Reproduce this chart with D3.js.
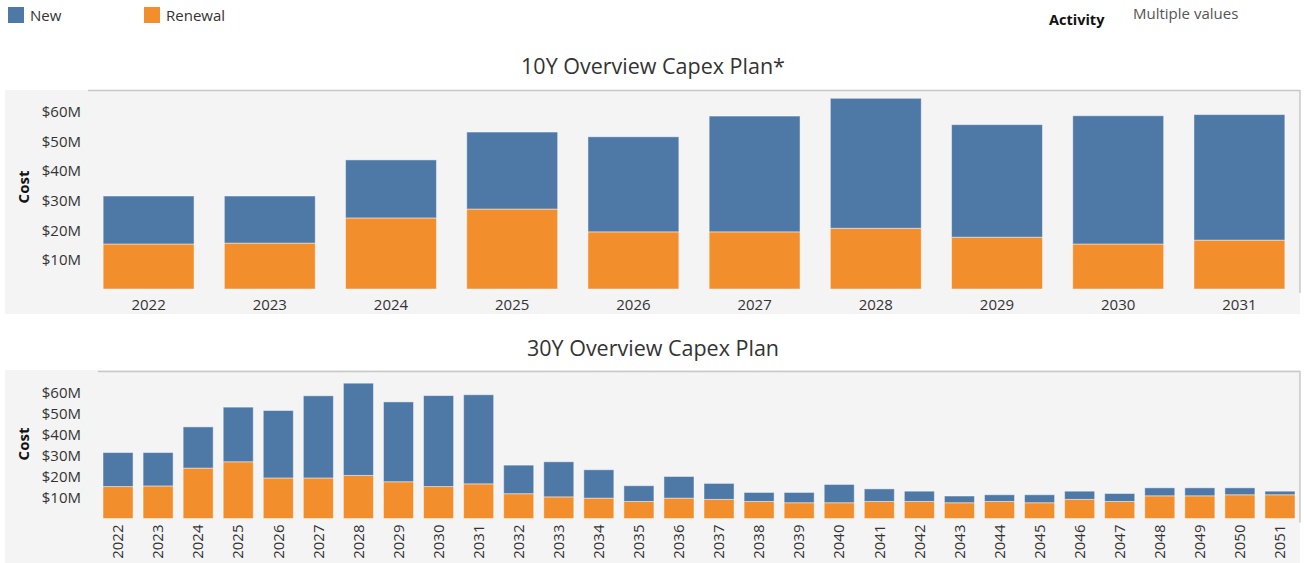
<!DOCTYPE html>
<html>
<head>
<meta charset="utf-8">
<script src="https://cdn.jsdelivr.net/npm/d3@7"></script>
<style>
  body { margin: 0; background: #fff; font-family: "Open Sans", "Noto Sans", sans-serif; }
  svg text { fill: #333; }
</style>
</head>
<body>
<svg id="chart"></svg>
<script>
// values in $M
var years = ["2022","2023","2024","2025","2026","2027","2028","2029","2030","2031",
             "2032","2033","2034","2035","2036","2037","2038","2039","2040","2041",
             "2042","2043","2044","2045","2046","2047","2048","2049","2050","2051"];
var renewal = [15.2,15.5,24.0,27.0,19.3,19.3,20.5,17.5,15.2,16.5,
               11.8,10.3,9.7,8.1,9.7,9.1,8.1,7.5,7.5,8.1,
               8.1,7.5,8.1,7.5,9.1,8.1,10.8,10.8,11.3,11.3];
var newCost = [16.2,15.9,19.6,26.0,32.1,39.1,43.9,38.0,43.3,42.4,
               13.6,16.7,13.5,7.5,10.3,7.6,4.3,4.9,8.7,6.0,
               4.9,3.2,3.2,3.8,3.9,3.8,3.8,3.8,3.3,1.7];
var yTicks = [10,20,30,40,50,60];
var seriesKeys = ["renewal","new"];
var colors = {new: "#4e79a7", renewal: "#f28e2b"};

var W = 1304, H = 563;
var FS = "15px";
var svg = d3.select("#chart").attr("width", W).attr("height", H);

var rows = years.map(function(y, i){ return {year: y, renewal: renewal[i], new: newCost[i]}; });
var stack = d3.stack().keys(seriesKeys);

// legend
var legendX = [8, 144];
var legendItems = [{name: "New", key: "new"}, {name: "Renewal", key: "renewal"}];
legendItems.forEach(function(d, i){
  svg.append("rect").attr("x", legendX[i]).attr("y", 7).attr("width", 16).attr("height", 16)
    .attr("fill", colors[d.key]);
  svg.append("text").attr("x", legendX[i] + 22).attr("y", 20.5).style("font-size", FS).text(d.name);
});
svg.append("text").attr("x", 1049).attr("y", 24.5).style("font-size", "14.5px").style("font-weight", "bold")
  .style("fill", "#111").text("Activity");
svg.append("text").attr("x", 1133).attr("y", 19).style("font-size", "15px").style("fill", "#555")
  .text("Multiple values");

function drawPanel(cfg) {
  var data = rows.slice(0, cfg.n);
  var g = svg.append("g");

  g.append("rect").attr("x", 5).attr("y", cfg.panelTop).attr("width", 1295)
    .attr("height", cfg.panelBottom - cfg.panelTop).attr("fill", "#f4f4f4");
  g.append("line").attr("x1", cfg.x0).attr("x2", 1300).attr("y1", cfg.plotTop + 0.5).attr("y2", cfg.plotTop + 0.5)
    .attr("stroke", "#c8c8c8").attr("stroke-width", 1.5);
  g.append("line").attr("x1", 1300).attr("x2", 1300).attr("y1", cfg.plotTop).attr("y2", cfg.baseline + 4)
    .attr("stroke", "#c8c8c8").attr("stroke-width", 1.5);

  var x = d3.scaleBand().domain(data.map(function(d){ return d.year; }))
    .range([cfg.x0, 1300]).paddingInner(0.25).paddingOuter(0.125);
  var y = d3.scaleLinear().domain([0, cfg.yMax]).range([cfg.baseline, cfg.plotTop]);

  svg.append("text").attr("x", 653).attr("y", cfg.titleY).attr("text-anchor", "middle")
    .style("font-size", "21.5px").text(cfg.title);

  var yAxis = d3.axisLeft(y).tickValues(yTicks).tickSize(0).tickPadding(0)
    .tickFormat(function(d){ return "$" + d + "M"; });
  var ya = g.append("g").attr("transform", "translate(81,0)").call(yAxis);
  ya.select(".domain").remove();
  ya.selectAll("text").style("font-size", FS).style("font-family", "'Open Sans', sans-serif")
    .attr("fill", "#333").attr("dy", "0.35em");

  g.append("text").attr("transform", "translate(29," + cfg.costY + ") rotate(-90)")
    .attr("text-anchor", "middle").style("font-size", "15px").style("font-weight", "bold")
    .style("fill", "#111").text("Cost");

  var layers = stack(data);
  g.selectAll(".layer").data(layers).enter().append("g")
    .attr("fill", function(d){ return colors[d.key]; })
    .selectAll("rect").data(function(d){ return d; }).enter().append("rect")
    .attr("x", function(d){ return x(d.data.year); })
    .attr("width", x.bandwidth())
    .attr("y", function(d){ return y(d[1]); })
    .attr("height", function(d){ return y(d[0]) - y(d[1]); })
    .attr("stroke", "rgba(255,255,255,0.45)").attr("stroke-width", 1);

  var xAxis = d3.axisBottom(x).tickSize(0).tickPadding(0);
  var xa = g.append("g").attr("transform", "translate(0," + cfg.baseline + ")").call(xAxis);
  xa.select(".domain").remove();
  xa.selectAll("text").style("font-size", FS).style("font-family", "'Open Sans', sans-serif").attr("fill", "#333");
  if (cfg.rotate) {
    xa.selectAll("text").attr("transform", "rotate(-90)").attr("text-anchor", "end")
      .attr("x", -6).attr("y", 0).attr("dy", "0.35em");
  } else {
    xa.selectAll("text").attr("y", 15.5).attr("dy", "0.35em");
  }
}

drawPanel({n: 10, panelTop: 90, panelBottom: 314, plotTop: 90, baseline: 289, yMax: 67.2,
           x0: 88, title: "10Y Overview Capex Plan*", titleY: 74, costY: 187, rotate: false});
drawPanel({n: 30, panelTop: 370, panelBottom: 563, plotTop: 371, baseline: 518.5, yMax: 70.2,
           x0: 98, title: "30Y Overview Capex Plan", titleY: 356, costY: 444, rotate: true});
</script>
</body>
</html>
